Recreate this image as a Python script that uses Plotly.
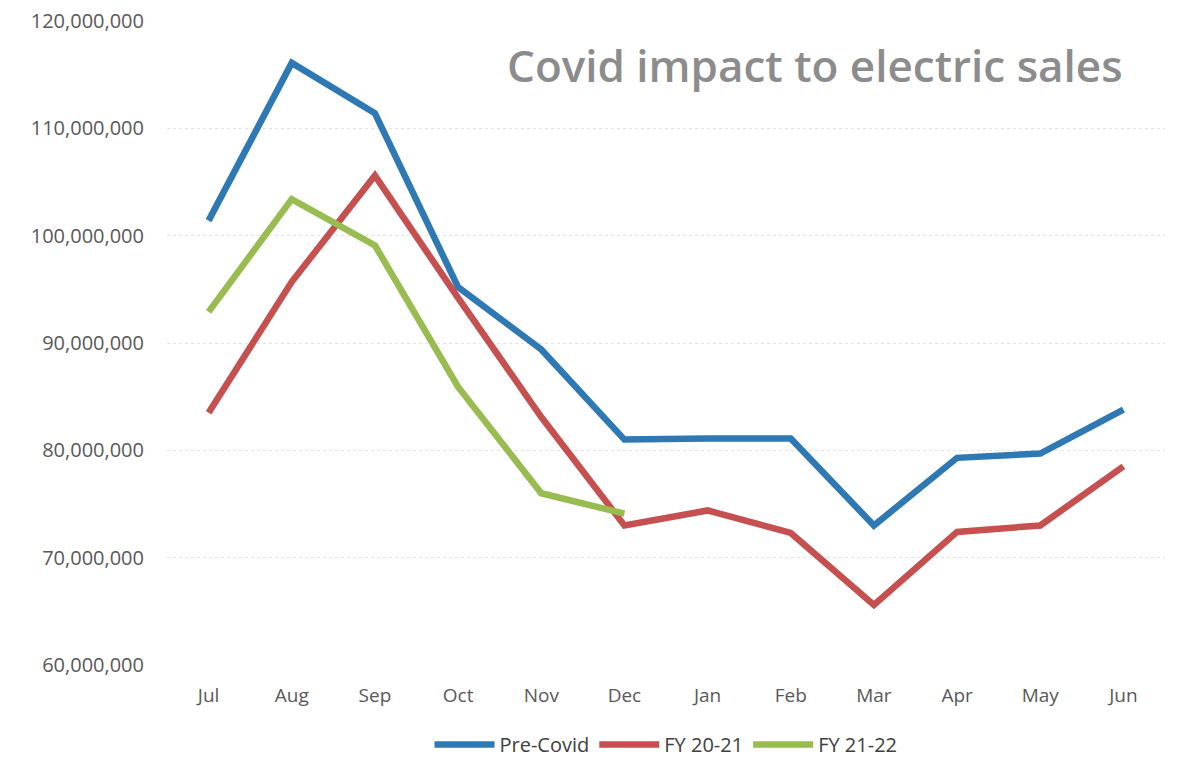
import plotly.graph_objects as go

months = ["Jul", "Aug", "Sep", "Oct", "Nov", "Dec", "Jan", "Feb", "Mar", "Apr", "May", "Jun"]
pre_covid = [101.4e6, 116.1e6, 111.4e6, 95.2e6, 89.4e6, 81.0e6, 81.1e6, 81.1e6, 73.0e6, 79.3e6, 79.7e6, 83.8e6]
fy_20_21 = [83.5e6, 95.7e6, 105.6e6, 94.2e6, 83.1e6, 73.0e6, 74.4e6, 72.3e6, 65.6e6, 72.4e6, 73.0e6, 78.5e6]
fy_21_22 = [92.9e6, 103.4e6, 99.1e6, 85.9e6, 76.0e6, 74.1e6]
tick_vals = [60e6, 70e6, 80e6, 90e6, 100e6, 110e6, 120e6]

fig = go.Figure()
fig.add_trace(go.Scatter(x=months, y=pre_covid, name="Pre-Covid", mode="lines",
                         line=dict(color="#2E78B4", width=6.5)))
fig.add_trace(go.Scatter(x=months[:len(fy_20_21)], y=fy_20_21, name="FY 20-21", mode="lines",
                         line=dict(color="#C5504F", width=6.5)))
fig.add_trace(go.Scatter(x=months[:len(fy_21_22)], y=fy_21_22, name="FY 21-22", mode="lines",
                         line=dict(color="#98BC4F", width=6.5)))

fig.update_layout(
    width=1188, height=783,
    paper_bgcolor="white", plot_bgcolor="white",
    margin=dict(l=167, r=23, t=21, b=118),
    font=dict(family="Open Sans, Lato, sans-serif", color="#595959", size=19),
    showlegend=True,
    legend=dict(orientation="h", x=0.5, xanchor="center", y=-0.093, yanchor="top",
                font=dict(size=20, color="#404040"), itemwidth=60,
                tracegroupgap=0),
    annotations=[dict(text="Covid impact to electric sales", xref="paper", yref="paper",
                      x=0.96, y=0.932, xanchor="right", yanchor="middle", showarrow=False,
                      font=dict(size=44, color="#8C8C8C", family="Open Sans, sans-serif",
                                weight=600))],
)
fig.update_xaxes(showgrid=False, showline=False, zeroline=False, ticks="",
                 ticklabelstandoff=17, automargin=False,
                 tickfont=dict(size=19, color="#595959"), range=[-0.5, 11.5])
fig.update_yaxes(range=[60e6, 120e6], tickvals=tick_vals, tickformat=",.0f",
                 showgrid=True, gridcolor="#E3E3E3", gridwidth=1, griddash="dot",
                 zeroline=False, showline=False, ticks="", ticklabelstandoff=22,
                 automargin=False,
                 tickfont=dict(size=20, color="#595959"))

fig.write_html("out.html")
